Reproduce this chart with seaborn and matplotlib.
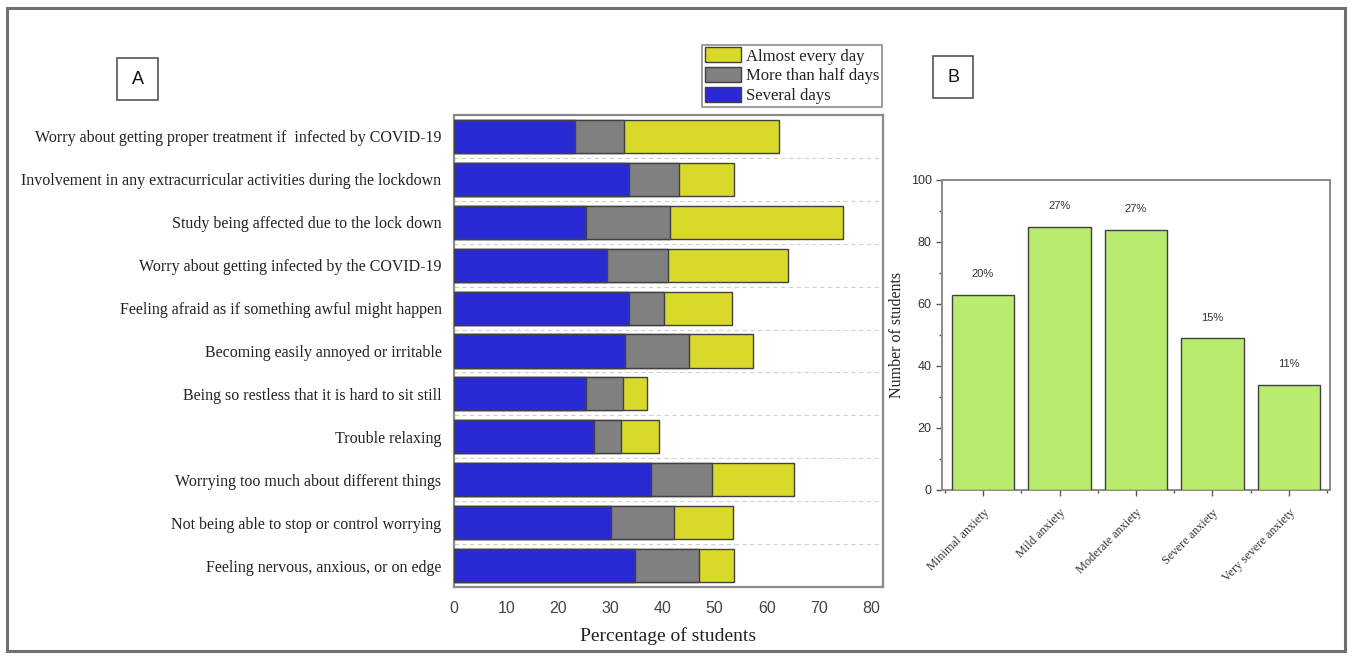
import numpy as np
import pandas as pd
import matplotlib
matplotlib.use("Agg")
import matplotlib.pyplot as plt
from matplotlib.patches import Patch, Rectangle
from matplotlib.ticker import MultipleLocator, FixedLocator
import seaborn as sns

# ---------------- data ----------------
items = [
    "Worry about getting proper treatment if  infected by COVID-19",
    "Involvement in any extracurricular activities during the lockdown",
    "Study being affected due to the lock down",
    "Worry about getting infected by the COVID-19",
    "Feeling afraid as if something awful might happen",
    "Becoming easily annoyed or irritable",
    "Being so restless that it is hard to sit still",
    "Trouble relaxing",
    "Worrying too much about different things",
    "Not being able to stop or control worrying",
    "Feeling nervous, anxious, or on edge",
]
several_days = [23.2, 33.5, 25.3, 29.4, 33.5, 32.9, 25.3, 26.9, 37.8, 30.1, 34.8]
more_than_half = [9.5, 9.6, 16.2, 11.7, 6.8, 12.1, 7.1, 5.1, 11.7, 12.1, 12.2]
almost_every_day = [29.7, 10.6, 33.1, 22.9, 13.1, 12.4, 4.6, 7.3, 15.8, 11.3, 6.8]
series_names = ["Almost every day", "More than half days", "Several days"]

levels = ["Minimal anxiety", "Mild anxiety", "Moderate anxiety",
          "Severe anxiety", "Very severe anxiety"]
n_students = [63, 85, 84, 49, 34]
pct_labels = ["20%", "27%", "27%", "15%", "11%"]

# ---------------- style ----------------
sns.set_theme(style="white")
plt.rcParams['font.family'] = ['Liberation Serif', 'DejaVu Serif']
SANS = ["Liberation Sans", "DejaVu Sans"]

c_blue = "#2a2ad4"
c_gray = "#808080"
c_yellow = "#d9d92a"
c_green = "#b9eb6e"
c_edge = "#404040"
c_spine = "#8a8a8a"

W, H = 1352, 656
fig = plt.figure(figsize=(W / 100, H / 100), dpi=100)

def fx(px):
    return px / W

def fy(py):
    return 1 - py / H

# outer frame
fig.patches.append(Rectangle((fx(7), fy(651)), fx(1345) - fx(7), fy(8) - fy(651),
                             transform=fig.transFigure, fill=False,
                             edgecolor="#707070", linewidth=2.2))

# ---------------- panel A ----------------
axA = fig.add_axes([fx(454), fy(587), fx(883) - fx(454), fy(115) - fy(587)])
df = pd.DataFrame({"item": items,
                   "s": several_days,
                   "m": more_than_half,
                   "a": almost_every_day})
df["cum_m"] = df["s"] + df["m"]
df["cum_a"] = df["cum_m"] + df["a"]

for col, color in [("cum_a", c_yellow), ("cum_m", c_gray), ("s", c_blue)]:
    sns.barplot(data=df, y="item", x=col, orient="h", color=color,
                width=0.77, edgecolor=c_edge, linewidth=1.0,
                saturation=1, ax=axA, zorder=3)

axA.set_xlim(0, 82.3)
axA.set_ylim(10.5, -0.5)
axA.xaxis.set_major_locator(MultipleLocator(10))
axA.yaxis.set_minor_locator(FixedLocator(np.arange(0.5, 10.5, 1)))
axA.grid(which="minor", axis="y", linestyle=(0, (4, 3)), color="#d0d0d0",
         linewidth=0.8, zorder=0)
axA.grid(which="major", visible=False)
axA.set_ylabel("")
axA.set_xlabel("Percentage of students", fontsize=14, labelpad=8, color="#222222")
axA.tick_params(axis="y", length=0, labelsize=11.5, pad=9)
axA.tick_params(axis="x", length=0, labelsize=11.5, pad=10)
for lab in axA.get_xticklabels():
    lab.set_fontfamily(SANS)
    lab.set_color("#444444")
for lab in axA.get_yticklabels():
    lab.set_color("#222222")
for sp in axA.spines.values():
    sp.set_color(c_spine)
    sp.set_linewidth(1.6)

handles = [Patch(facecolor=c_yellow, edgecolor=c_edge),
           Patch(facecolor=c_gray, edgecolor=c_edge),
           Patch(facecolor=c_blue, edgecolor=c_edge)]
leg = fig.legend(handles, series_names, loc="upper left",
                 bbox_to_anchor=(fx(702), fy(45)), fontsize=12,
                 frameon=True, fancybox=False, edgecolor="#707070",
                 handlelength=2.2, handleheight=1.0, labelspacing=0.15,
                 handletextpad=0.3, borderpad=0.15, borderaxespad=0)
leg.get_frame().set_linewidth(1.2)
for t in leg.get_texts():
    t.set_color("#222222")

# ---------------- panel B ----------------
axB = fig.add_axes([fx(942), fy(490), fx(1330) - fx(942), fy(180) - fy(490)])
dfb = pd.DataFrame({"level": levels, "n": n_students})
sns.barplot(data=dfb, x="level", y="n", color=c_green, width=0.82,
            edgecolor=c_edge, linewidth=1.0, saturation=1, ax=axB, zorder=3)
axB.set_xlim(-0.536, 4.536)
axB.set_ylim(0, 100)
axB.yaxis.set_major_locator(MultipleLocator(20))
axB.yaxis.set_minor_locator(MultipleLocator(10))
axB.xaxis.set_minor_locator(FixedLocator(np.arange(-0.5, 5, 1)))
axB.tick_params(axis="both", which="major", direction="out", length=4,
                width=1, color="#555555", bottom=True, left=True,
                labelsize=9)
axB.tick_params(axis="both", which="minor", direction="out", length=2.5,
                width=1, color="#555555", bottom=True, left=True)
axB.tick_params(axis="x", which="major", pad=8)
for lab in axB.get_yticklabels():
    lab.set_fontfamily(SANS)
    lab.set_color("#333333")
axB.set_xticks(range(len(levels)))
axB.set_xticklabels(levels, rotation=45, ha="right", rotation_mode="anchor",
                    fontsize=8.8, color="#333333")
axB.set_xlabel("")
axB.set_ylabel("Number of students", fontsize=11.5, labelpad=4, color="#222222")
for sp in axB.spines.values():
    sp.set_color(c_spine)
    sp.set_linewidth(1.4)
for i, (v, t) in enumerate(zip(n_students, pct_labels)):
    axB.text(i, v + 5, t, ha="center", va="bottom", fontsize=8,
             fontfamily=SANS, color="#333333")

# panel letters
for label, x0, y0, x1, y1 in [("A", 117, 58, 158, 100), ("B", 933, 56, 973, 98)]:
    fig.patches.append(Rectangle((fx(x0), fy(y1)), fx(x1) - fx(x0), fy(y0) - fy(y1),
                                 transform=fig.transFigure, fill=False,
                                 edgecolor="#555555", linewidth=1.2))
    fig.text((fx(x0) + fx(x1)) / 2, (fy(y0) + fy(y1)) / 2, label,
             ha="center", va="center", fontsize=13,
             fontfamily=SANS, color="#111111")

fig.savefig("out.png", dpi=100, facecolor="white")
